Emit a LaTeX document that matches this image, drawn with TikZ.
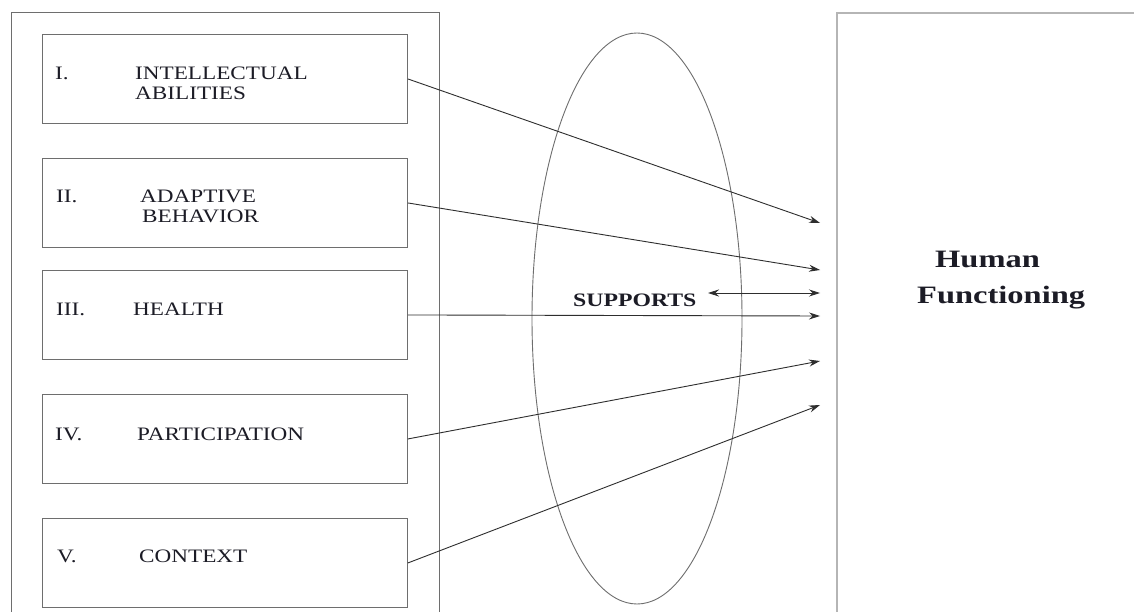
\documentclass[tikz,border=0pt]{standalone}
\usepackage{fontspec}
\setmainfont{Liberation Serif}
\usetikzlibrary{shapes.geometric,arrows.meta}
\definecolor{boxline}{HTML}{6E6E6E}
\definecolor{rline}{HTML}{B5B5B5}
\definecolor{connc}{HTML}{2E2E2E}
\definecolor{txt}{HTML}{1C1C26}
\newcommand{\stretchtext}[2][1.22]{\scalebox{#1}[1]{#2}}
\begin{document}
\begin{tikzpicture}[x=1pt,y=-1pt,
  itembox/.style={draw=boxline, line width=0.9pt, minimum width=365pt, minimum height=89pt, inner sep=0pt, anchor=north west},
  lbl/.style={anchor=base west, inner sep=0pt, text=txt, font=\fontsize{19}{20}\selectfont},
  blbl/.style={anchor=base west, inner sep=0pt, text=txt, font=\fontsize{19}{20}\selectfont\bfseries},
  hlbl/.style={anchor=base west, inner sep=0pt, text=txt, font=\fontsize{25}{26}\selectfont\bfseries},
  tip/.style={Stealth[length=11pt,width=7pt]},
  connector/.style={draw=connc, line width=0.9pt, -{Stealth[length=11pt,width=7pt]}},
]
\useasboundingbox (0,0) rectangle (1134,612);
\clip (0,0) rectangle (1134,612);
\fill[white] (0,0) rectangle (1134,612);

% outer frames
\node[draw=boxline, line width=1pt, minimum width=428pt, minimum height=640pt, inner sep=0pt, anchor=north west] (outer) at (11,12) {};
\node[draw=rline, line width=2pt, minimum width=340pt, minimum height=640pt, inner sep=0pt, anchor=north west] (hf) at (836,12) {};

% item boxes
\node[itembox] (b1) at (42,34) {};
\node[itembox] (b2) at (42,158) {};
\node[itembox] (b3) at (42,270) {};
\node[itembox] (b4) at (42,394) {};
\node[itembox] (b5) at (42,518) {};

% labels
\node[lbl] (n1) at (55,80) {\stretchtext{I.}};
\node[lbl] (l1a) at (135,80) {\stretchtext{INTELLECTUAL}};
\node[lbl] (l1b) at (135,100) {\stretchtext{ABILITIES}};
\node[lbl] (n2) at (56,203) {\stretchtext{II.}};
\node[lbl] (l2a) at (140,203) {\stretchtext{ADAPTIVE}};
\node[lbl] (l2b) at (142,223) {\stretchtext{BEHAVIOR}};
\node[lbl] (n3) at (56,315) {\stretchtext{III.}};
\node[lbl] (l3) at (133,315) {\stretchtext{HEALTH}};
\node[lbl] (n4) at (55,440) {\stretchtext{IV.}};
\node[lbl] (l4) at (137,440) {\stretchtext{PARTICIPATION}};
\node[lbl] (n5) at (57,562) {\stretchtext{V.}};
\node[lbl] (l5) at (139,562) {\stretchtext{CONTEXT}};

% ellipse
\node[draw=boxline, line width=0.9pt, ellipse, minimum width=210pt, minimum height=571pt, inner sep=0pt] (sup) at (637,318.5) {};
\node[blbl] (supl) at (573,306) {\stretchtext[1.25]{SUPPORTS}};

% human functioning
\node[hlbl] (hum) at (935,267) {\stretchtext[1.3]{Human}};
\node[hlbl] (fun) at (917,303) {\stretchtext[1.3]{Functioning}};

% targets
\coordinate (t1) at (820,223);
\coordinate (t2) at (820,270);
\coordinate (t3) at (820,293);
\coordinate (t4) at (820,316);
\coordinate (t5) at (820,361);
\coordinate (t6) at (820,405);
\coordinate (s3) at (708,293);

\draw[connector] (b1.east) -- (t1);
\draw[connector] (b2.east) -- (t2);
\draw[connector, {Stealth[length=11pt,width=7pt]}-{Stealth[length=11pt,width=7pt]}] (s3) -- (t3);
\draw[connector] (b3.east) -- (t4);
\draw[connector] (b4.east) -- (t5);
\draw[connector] (b5.east) -- (t6);
\end{tikzpicture}
\end{document}
